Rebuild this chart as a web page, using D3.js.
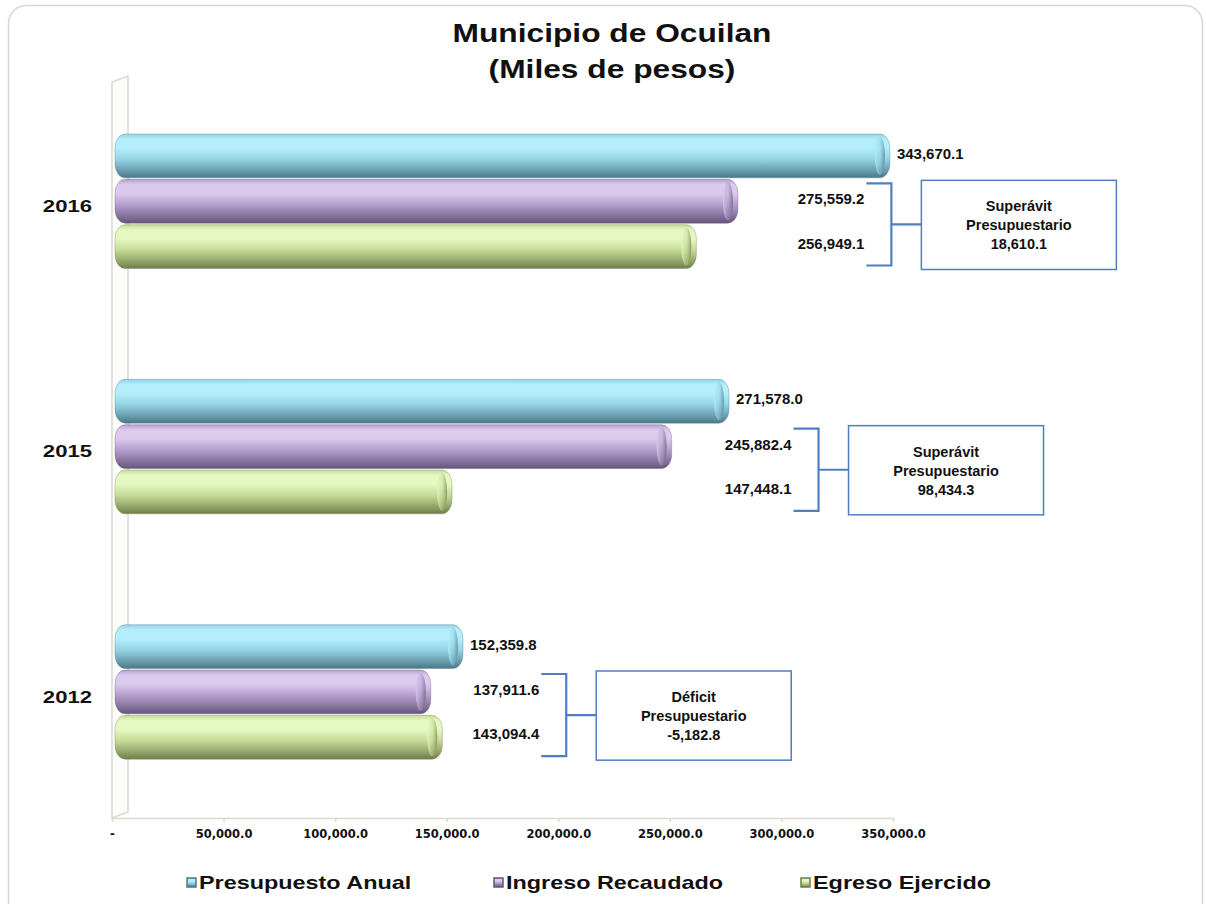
<!DOCTYPE html>
<html>
<head>
<meta charset="utf-8">
<script src="https://cdn.jsdelivr.net/npm/d3@7"></script>
<style>
  body { margin: 0; background: #fff; }
  text { font-family: "Liberation Sans", Arial, sans-serif; font-weight: bold; fill: #111; }
</style>
</head>
<body>
<script>
// data
const years = ['2016', '2015', '2012']
const seriesNames = ['Presupuesto Anual', 'Ingreso Recaudado', 'Egreso Ejercido']
const presupuesto = [343670.1, 271578.0, 152359.8]
const ingreso = [275559.2, 245882.4, 137911.6]
const egreso = [256949.1, 147448.1, 143094.4]
const xTicks = [0, 50000, 100000, 150000, 200000, 250000, 300000, 350000]

const width = 1206, height = 904
const colors = [
  {dark: '#4a7888', base: '#94d3e4', light: '#b4eefc'},
  {dark: '#64557a', base: '#b49ecc', light: '#dccaee'},
  {dark: '#6f7e4a', base: '#c6da98', light: '#e6f8c2'}
]

const loc = d3.formatLocale({decimal: '.', thousands: ',', grouping: [3], currency: ['$', ''], minus: '-'})
const fmt = loc.format(',.1f')

const svg = d3.select('body').append('svg')
  .attr('width', width)
  .attr('height', height)

// frame
svg.append('rect')
  .attr('x', 8.5).attr('y', 5.5)
  .attr('width', 1194).attr('height', 930)
  .attr('rx', 18)
  .attr('fill', '#fff')
  .attr('stroke', '#d6d6d6')
  .attr('stroke-width', 1.5)

// gradients for the cylinders
const defs = svg.append('defs')
colors.forEach(function (c, i) {
  let g = defs.append('linearGradient')
    .attr('id', 'grad' + i)
    .attr('x1', 0).attr('y1', 0).attr('x2', 0).attr('y2', 1)
  let stops = [[0, c.base], [0.12, c.light], [0.32, c.light], [0.58, c.base], [0.84, d3.interpolateRgb(c.base, c.dark)(0.6)], [1, c.dark]]
  stops.forEach(s => g.append('stop').attr('offset', s[0]).attr('stop-color', s[1]))

  let g2 = defs.append('linearGradient')
    .attr('id', 'cap' + i)
    .attr('x1', 0).attr('y1', 0).attr('x2', 1).attr('y2', 0)
  g2.append('stop').attr('offset', 0).attr('stop-color', c.light).attr('stop-opacity', 0.8)
  g2.append('stop').attr('offset', 0.5).attr('stop-color', c.base).attr('stop-opacity', 0.4)
  g2.append('stop').attr('offset', 1).attr('stop-color', c.dark).attr('stop-opacity', 0.7)
})

// title
function stretched(sel, x, y, sx) {
  return sel.attr('transform', `translate(${x},${y}) scale(${sx},1)`)
}
stretched(svg.append('text'), 612, 42, 1.22)
  .attr('text-anchor', 'middle').attr('font-size', 26)
  .text('Municipio de Ocuilan')
stretched(svg.append('text'), 612, 78, 1.22)
  .attr('text-anchor', 'middle').attr('font-size', 26)
  .text('(Miles de pesos)')

// scales
const x = d3.scaleLinear().domain([0, 350000]).range([112, 893])
const y = d3.scaleBand().domain(years).range([82, 818])
const sub = d3.scaleBand().domain(seriesNames).range([52, 188])
const depth = 16, lift = 6

// 3d wall + floor
const wallColor = '#d9d9cf'
svg.append('path')
  .attr('d', `M${x(0)},${y.range()[1]} L${x(0)},${y.range()[0]} L${x(0) + depth},${y.range()[0] - lift} L${x(0) + depth},${y.range()[1] - lift} Z`)
  .attr('fill', '#fdfdfb')
  .attr('stroke', wallColor)
  .attr('stroke-width', 1.5)

const axis = svg.append('g')
  .attr('transform', `translate(0,${y.range()[1]})`)
  .call(d3.axisBottom(x).tickValues(xTicks).tickSize(4).tickSizeOuter(0).tickPadding(8)
    .tickFormat(d => d === 0 ? '-' : fmt(d)))
axis.select('.domain').attr('stroke', wallColor).attr('stroke-width', 1.5)
axis.selectAll('.tick line').attr('stroke', wallColor).attr('stroke-width', 1.5)
axis.selectAll('.tick text')
  .style('font-family', '"DejaVu Sans", Verdana, sans-serif')
  .style('font-size', '11.5px')
  .attr('fill', '#111')

// year labels
years.forEach(function (yr) {
  stretched(svg.append('text'), 92, y(yr) + y.bandwidth() / 2 + 3, 1.3)
    .attr('text-anchor', 'end')
    .attr('dominant-baseline', 'middle')
    .attr('font-size', 17)
    .text(yr)
})

// bars
const seriesValues = [presupuesto, ingreso, egreso]
const bh = sub.bandwidth() - 1.5
years.forEach(function (yr, yi) {
  seriesValues.forEach(function (vals, si) {
    let top = y(yr) + sub(seriesNames[si])
    let x0 = x(0) + 3
    let x1 = x(vals[yi]) + 11
    let g = svg.append('g')
    g.append('rect')
      .attr('x', x0).attr('y', top)
      .attr('width', x1 - x0).attr('height', bh)
      .attr('rx', 10).attr('ry', 14)
      .attr('fill', `url(#grad${si})`)
      .attr('stroke', colors[si].dark)
      .attr('stroke-opacity', 0.35)
    g.append('ellipse')
      .attr('cx', x1 - 10).attr('cy', top + bh / 2)
      .attr('rx', 5).attr('ry', bh / 2 - 3)
      .attr('fill', `url(#cap${si})`)
  })
})

// value labels for presupuesto
years.forEach(function (yr, yi) {
  svg.append('text')
    .attr('x', x(presupuesto[yi]) + 18)
    .attr('y', y(yr) + sub(seriesNames[0]) + bh / 2 - 1)
    .attr('dominant-baseline', 'middle')
    .attr('font-size', 15)
    .text(fmt(presupuesto[yi]))
})

// bracket + balance box
const blue = '#4f7fbf'
years.forEach(function (yr, yi) {
  let m = Math.max(ingreso[yi], egreso[yi])
  let bx = x(m * 1.1) + 103
  let pTop = y(yr) + sub(seriesNames[1])
  let gBot = y(yr) + sub(seriesNames[2]) + bh
  let t = pTop + 4, b = gBot - 3, mid = (t + b) / 2

  svg.append('path')
    .attr('d', `M${bx - 25},${t} H${bx} V${b} H${bx - 25} M${bx},${mid} H${bx + 30}`)
    .attr('fill', 'none')
    .attr('stroke', blue)
    .attr('stroke-width', 2.2)

  svg.append('rect')
    .attr('x', bx + 30).attr('y', pTop + 1)
    .attr('width', 195).attr('height', gBot - pTop)
    .attr('fill', '#fff')
    .attr('stroke', blue)
    .attr('stroke-width', 1.5)

  let [ing, eg] = [ingreso[yi], egreso[yi]]
  svg.append('text')
    .attr('x', bx - 27).attr('y', pTop + bh / 2 - 1)
    .attr('text-anchor', 'end').attr('dominant-baseline', 'middle')
    .attr('font-size', 15)
    .text(fmt(ing))
  svg.append('text')
    .attr('x', bx - 27).attr('y', gBot - bh / 2 - 2)
    .attr('text-anchor', 'end').attr('dominant-baseline', 'middle')
    .attr('font-size', 15)
    .text(fmt(eg))

  let diff = ing - eg
  let lines = [diff >= 0 ? 'Superávit' : 'Déficit', 'Presupuestario', fmt(diff)]
  lines.forEach(function (ln, li) {
    svg.append('text')
      .attr('x', bx + 30 + 97.5)
      .attr('y', mid + 2 + (li - 1) * 19)
      .attr('text-anchor', 'middle').attr('dominant-baseline', 'middle')
      .attr('font-size', 14.5)
      .text(ln)
  })
})

// legend
seriesNames.forEach(function (name, i) {
  let lx = 187 + i * 307
  svg.append('rect')
    .attr('x', lx).attr('y', 878)
    .attr('width', 9).attr('height', 9)
    .attr('fill', `url(#grad${i})`)
    .attr('stroke', colors[i].dark)
    .attr('stroke-width', 1.5)
  stretched(svg.append('text'), lx + 12, 889, 1.3)
    .attr('font-size', 18)
    .text(name)
})
</script>
</body>
</html>
